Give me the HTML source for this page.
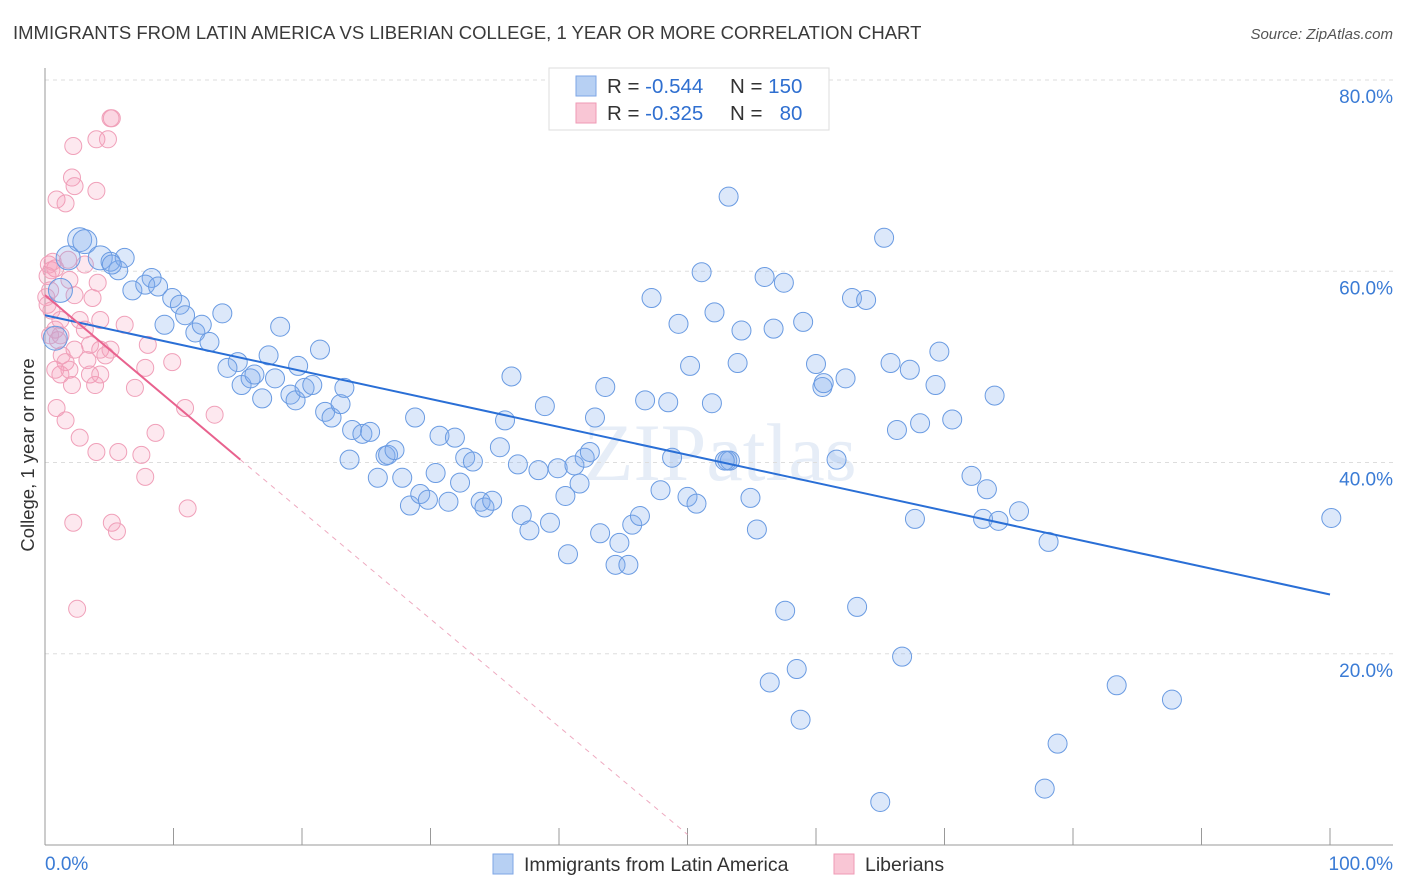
<!DOCTYPE html>
<html><head><meta charset="utf-8"><style>
body{margin:0;background:#fff;font-family:"Liberation Sans",sans-serif;}
svg{display:block}
</style></head><body>
<svg id="chart" width="1406" height="892">
<text x="13" y="39" font-size="18.5" fill="#3a3a3a">IMMIGRANTS FROM LATIN AMERICA VS LIBERIAN COLLEGE, 1 YEAR OR MORE CORRELATION CHART</text>
<text x="1393" y="39" font-size="15" fill="#555" font-style="italic" text-anchor="end">Source: ZipAtlas.com</text>
<text x="720" y="480" font-size="82" fill="#e6edf7" text-anchor="middle" font-family="Liberation Serif,serif">ZIPatlas</text>
<g id="grid"></g>
<g id="pts"></g>
<g id="lines"></g>
<text transform="translate(34,455) rotate(-90)" font-size="18.5" fill="#333" text-anchor="middle">College, 1 year or more</text>
<text x="45" y="870" font-size="19" fill="#3a7bd5">0.0%</text>
<text x="1393" y="870" font-size="19" fill="#3a7bd5" text-anchor="end">100.0%</text>
<g>
<rect x="549" y="68" width="280" height="62" fill="#fff" stroke="#ddd"/>
<rect x="576" y="76" width="20" height="20" fill="#b7d0f3" stroke="#7ea6e6"/>
<rect x="576" y="103" width="20" height="20" fill="#f9c6d5" stroke="#ef9ab5"/>
<text x="607" y="93" font-size="20.5" fill="#333">R = <tspan fill="#2f6fd0">-0.544</tspan></text>
<text x="730" y="93" font-size="20.5" fill="#333">N = <tspan fill="#2f6fd0">150</tspan></text>
<text x="607" y="120" font-size="20.5" fill="#333">R = <tspan fill="#2f6fd0"> -0.325</tspan></text>
<text x="730" y="120" font-size="20.5" fill="#333">N = <tspan fill="#2f6fd0" xml:space="preserve">  80</tspan></text>
</g>
<g>
<rect x="493" y="854" width="20" height="20" fill="#b7d0f3" stroke="#7ea6e6"/>
<text x="524" y="871" font-size="19.5" fill="#333">Immigrants from Latin America</text>
</g>
<g>
<rect x="834" y="854" width="20" height="20" fill="#f9c6d5" stroke="#ef9ab5"/>
<text x="865" y="871" font-size="19.5" fill="#333">Liberians</text>
</g>
</svg>
<script>
const yTicks=[20,40,60,80];
const yTickLabels=["20.0%","40.0%","60.0%","80.0%"];
const xTicks=[0,10,20,30,40,50,60,70,80,90,100];
const blueX=[0.8,1.2,1.8,2.7,3.1,4.3,5.1,5.7,6.2,5.2,8.3,6.8,7.8,8.8,9.9,10.5,10.9,9.3,11.7,12.2,12.8,13.8,15.0,14.2,15.3,16.0,16.3,16.9,17.4,17.9,18.3,19.1,19.5,19.7,20.2,20.8,21.4,21.8,22.3,23.0,23.3,23.9,24.7,25.3,23.7,25.9,26.5,26.7,27.2,27.8,28.4,28.8,29.2,29.8,30.4,30.7,31.4,31.9,32.3,32.7,33.3,33.9,34.2,34.8,35.4,35.8,36.3,36.8,37.1,37.7,38.4,38.9,39.3,39.9,40.5,40.7,41.2,41.6,42.0,42.4,42.8,43.2,43.6,44.4,44.7,45.4,45.7,46.3,46.7,47.2,47.9,48.5,48.8,49.3,50.0,50.2,50.7,51.1,51.9,52.1,53.1,53.3,53.9,54.2,54.9,55.4,56.0,56.7,57.5,57.6,56.4,58.5,58.8,59.0,60.0,60.5,60.6,61.6,62.3,62.8,63.2,63.9,65.0,65.3,65.8,66.3,66.7,67.3,67.7,68.1,69.3,69.6,70.6,72.1,73.0,73.3,73.9,74.2,75.8,78.1,78.8,77.8,83.4,87.7,100.1,53.2,52.9];
const blueY=[53.0,58.0,61.4,63.3,63.1,61.4,61.0,60.1,61.4,60.7,59.3,58.0,58.6,58.4,57.2,56.5,55.4,54.4,53.6,54.4,52.6,55.6,50.5,49.9,48.1,48.8,49.2,46.7,51.2,48.8,54.2,47.1,46.5,50.1,47.8,48.1,51.8,45.3,44.7,46.1,47.8,43.4,43.0,43.2,40.3,38.4,40.7,40.8,41.3,38.4,35.5,44.7,36.7,36.1,38.9,42.8,35.9,42.6,37.9,40.5,40.1,35.9,35.3,36.0,41.6,44.4,49.0,39.8,34.5,32.9,39.2,45.9,33.7,39.4,36.5,30.4,39.7,37.8,40.5,41.1,44.7,32.6,47.9,29.3,31.6,29.3,33.5,34.4,46.5,57.2,37.1,46.3,40.5,54.5,36.4,50.1,35.7,59.9,46.2,55.7,40.2,40.2,50.4,53.8,36.3,33.0,59.4,54.0,58.8,24.5,17.0,18.4,13.1,54.7,50.3,47.9,48.3,40.3,48.8,57.2,24.9,57.0,4.5,63.5,50.4,43.4,19.7,49.7,34.1,44.1,48.1,51.6,44.5,38.6,34.1,37.2,47.0,33.9,34.9,31.7,10.6,5.9,16.7,15.2,34.2,67.8,40.2];
const pinkX=[5.2,5.1,4.0,4.9,2.2,2.1,2.3,4.0,0.9,1.6,0.8,0.5,0.4,0.2,0.5,0.8,1.0,1.3,1.2,0.9,1.2,1.6,1.9,2.1,2.3,2.7,3.1,3.3,3.5,3.9,4.1,3.7,4.3,4.7,5.1,4.3,6.2,7.0,8.0,7.8,8.6,9.9,10.9,13.2,2.7,4.0,5.7,7.5,7.8,11.1,2.2,5.2,5.6,2.5,1.8,1.9,3.1,1.2,0.4,0.8,1.6,2.3,4.3,3.5,0.3,0.6,0.2,0.1];
const pinkY=[76.0,76.0,73.8,73.8,73.1,69.8,68.9,68.4,67.5,67.1,60.3,60.1,58.0,56.5,55.9,53.9,52.8,51.2,49.2,45.7,53.3,50.5,49.7,48.1,57.5,54.9,53.9,50.7,49.2,48.1,58.8,57.2,51.8,51.2,51.8,49.2,54.4,47.8,52.3,49.9,43.1,50.5,45.7,45.0,42.6,41.1,41.1,40.8,38.5,35.2,33.7,33.7,32.8,24.7,61.2,59.1,60.7,54.9,53.3,49.7,44.4,51.8,54.9,52.3,60.7,61.0,59.5,57.3];
const blueTrend=[[0,55.4],[100,26.2]];
const pinkTrend=[[0,57.5],[15.2,40.3]];
const pinkDash=[[15.2,40.3],[50,1.1]];
const NS='http://www.w3.org/2000/svg';
const X0=45,X1=1330,Y0=845,YT=80;
function sx(v){return X0+(X1-X0)*v/100;}
function sy(v){return Y0-(Y0-YT)*v/80;}
function mk(tag,attrs,parent){const e=document.createElementNS(NS,tag);for(const k in attrs)e.setAttribute(k,attrs[k]);parent.appendChild(e);return e;}
const grid=document.getElementById('grid');
yTicks.forEach((t,i)=>{
  const l=mk('line',{x1:45,x2:1393,y1:sy(t),y2:sy(t),stroke:'#ddd','stroke-dasharray':'4,4'},grid);
  
  
  const tx=mk('text',{x:1393,y:sy(t)+23,'font-size':19,fill:'#3a7bd5','text-anchor':'end'},grid);
  tx.textContent=yTickLabels[i];
  
  
});
const ax=mk('line',{x1:45,x2:45,y1:68,y2:845,stroke:'#999'},grid);


const bx=mk('line',{x1:45,x2:1393,y1:845,y2:845,stroke:'#999'},grid);


xTicks.forEach(t=>{
  const l=mk('line',{x1:sx(t),x2:sx(t),y1:828,y2:845,stroke:'#999'},grid);
  
  
});
const pts=document.getElementById('pts');
pinkX.forEach((x,i)=>{
  const c=mk('circle',{cx:sx(x),cy:sy(pinkY[i]),r:8.5,fill:'rgba(244,150,180,0.22)',stroke:'#f0a0b9','stroke-width':1},pts);
  
  
});
blueX.forEach((x,i)=>{
  const r=i<6?12:9.5;
  const c=mk('circle',{cx:sx(x),cy:sy(blueY[i]),r:r,fill:'rgba(130,172,236,0.28)',stroke:'#6a9be2','stroke-width':1},pts);
  
  
});
const lines=document.getElementById('lines');
const bl=mk('line',{x1:sx(blueTrend[0][0]),y1:sy(blueTrend[0][1]),x2:sx(blueTrend[1][0]),y2:sy(blueTrend[1][1]),stroke:'#2a6fd6','stroke-width':2},lines);


const pl=mk('line',{x1:sx(pinkTrend[0][0]),y1:sy(pinkTrend[0][1]),x2:sx(pinkTrend[1][0]),y2:sy(pinkTrend[1][1]),stroke:'#e8628e','stroke-width':2},lines);


const pd=mk('line',{x1:sx(pinkDash[0][0]),y1:sy(pinkDash[0][1]),x2:sx(pinkDash[1][0]),y2:sy(pinkDash[1][1]),stroke:'#eeaac0','stroke-width':1,'stroke-dasharray':'5,5'},lines);


</script>
</body></html>
